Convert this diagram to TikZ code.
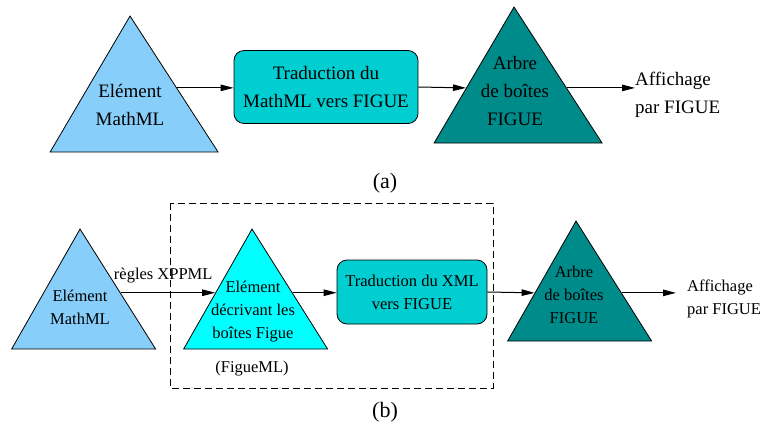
\documentclass[tikz,border=0pt]{standalone}
\usepackage{fontspec}
\setmainfont{Liberation Serif}
\usetikzlibrary{
	shapes.geometric,
	arrows.meta,
	calc
}
\definecolor{elemblue}{HTML}{87CEFA}
\definecolor{figcyan}{HTML}{00FFFF}
\definecolor{procteal}{HTML}{00CED1}
\definecolor{treeteal}{HTML}{008B8B}
\tikzset{
	tri/.style={
		isosceles triangle,
		isosceles triangle stretches,
		shape border rotate=90,
		xslant=-0.03, transform shape,
		draw, line width=0.8pt,
		inner sep=0pt,
		anchor=apex
	},
	proc/.style={
		draw, line width=0.8pt,
		rounded corners=10pt,
		fill=procteal,
		align=center
	},
	txt/.style={
		align=center,
		inner sep=0pt
	},
	arr/.style={
		-{Triangle[length=13pt,width=6.5pt]},
		line width=1pt
	},
	big/.style={font=\fontsize{19}{28}\selectfont},
	small/.style={font=\fontsize{16.5}{23}\selectfont}
}

\begin{document}
\begin{tikzpicture}[x=1pt,y=-1pt]
	\useasboundingbox (0,0) rectangle (761,434);

	% (a)
	\node[tri,fill=elemblue,minimum width=168,minimum height=136] (tri1) at (130,15) {};
	\node[txt,big] (tri1-txt) at (130,105) {Elément\\MathML};
	\node[proc,big,minimum width=184,minimum height=73] (box1) at (326,87) {Traduction du\\MathML vers FIGUE};
	\node[tri,fill=treeteal,minimum width=168,minimum height=136] (tri2) at (514,6) {};
	\node[txt,big] (tri2-txt) at (515,91) {Arbre\\de boîtes\\FIGUE};
	\node[txt,big,align=left,anchor=west] (aff-a) at (635,95) {Affichage\\par FIGUE};
	\node[font=\fontsize{22}{26}\selectfont] (cap-a) at (385,183) {(a)};

	\coordinate (t1out) at ($(tri1.apex)!0.53!(tri1.right corner)$);
	\coordinate (t2in)  at ($(tri2.apex)!0.596!(tri2.left corner)$);
	\coordinate (t2out) at ($(tri2.apex)!0.596!(tri2.right corner)$);
	\draw[arr] (t1out) -- (t1out -| box1.west);
	\draw[arr] (box1.east) -- (t2in);
	\draw[arr] (t2out) -- (t2out -| aff-a.west);

	% (b)
	\draw[line width=0.8pt,dash pattern=on 7pt off 4pt] (170,203) rectangle (493,388);
	\node[tri,fill=elemblue,minimum width=144,minimum height=120] (tri3) at (80,228) {};
	\node[txt,small] (tri3-txt) at (80,307) {Elément\\MathML};
	\node[tri,fill=figcyan,minimum width=144,minimum height=120] (tri4) at (252,228) {};
	\node[txt,small] (tri4-txt) at (253,312) {Elément\\décrivant les\\boîtes Figue};
	\node[txt,small] (figueml) at (252,369) {(FigueML)};
	\node[proc,small,minimum width=150,minimum height=64] (box2) at (412,292) {Traduction du XML\\vers FIGUE};
	\node[tri,fill=treeteal,minimum width=144,minimum height=120] (tri5) at (576,220) {};
	\node[txt,small] (tri5-txt) at (574,295) {Arbre\\de boîtes\\FIGUE};
	\node[txt,small,align=left,anchor=west] (aff-b) at (687,299) {Affichage\\par FIGUE};
	\node[font=\fontsize{22}{26}\selectfont] (cap-b) at (385,412) {(b)};

	\coordinate (t3out) at ($(tri3.apex)!0.533!(tri3.right corner)$);
	\coordinate (t4in)  at ($(tri4.apex)!0.533!(tri4.left corner)$);
	\coordinate (t4out) at ($(tri4.apex)!0.533!(tri4.right corner)$);
	\coordinate (t5in)  at ($(tri5.apex)!0.6!(tri5.left corner)$);
	\coordinate (t5out) at ($(tri5.apex)!0.6!(tri5.right corner)$);
	\draw[arr] (t3out) -- node[small,above,pos=0.45,inner sep=9pt] {règles XPPML} (t4in);
	\draw[arr] (t4out) -- (t4out -| box2.west);
	\draw[arr] (box2.east) -- (t5in);
	\draw[arr,shorten >=11pt] (t5out) -- (t5out -| aff-b.west);
\end{tikzpicture}
\end{document}
